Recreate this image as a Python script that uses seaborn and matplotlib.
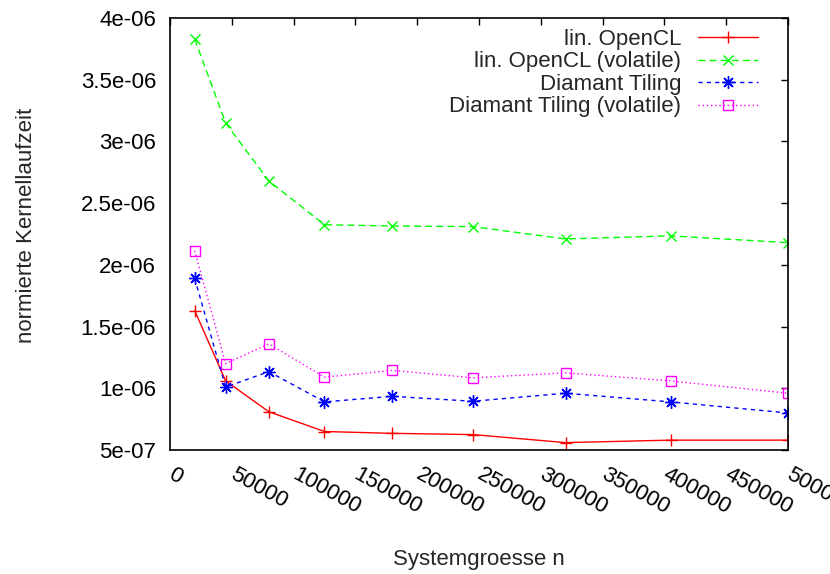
import matplotlib
matplotlib.use("Agg")
import matplotlib.pyplot as plt
import seaborn as sns
from matplotlib.ticker import FuncFormatter, MultipleLocator

sns.set_style("white")
plt.rcParams["font.family"] = ["Liberation Sans", "DejaVu Sans"]
plt.rcParams["font.size"] = 16

# problem sizes n
system_size = [20000, 45000, 80000, 125000, 180000, 245000, 320000, 405000, 500000]

# normalised kernel runtime per series
lin_opencl = [1.63e-6, 1.06e-6, 8.1e-7, 6.5e-7, 6.35e-7, 6.25e-7, 5.6e-7, 5.8e-7, 5.8e-7]
lin_opencl_volatile = [3.83e-6, 3.15e-6, 2.68e-6, 2.325e-6, 2.315e-6, 2.31e-6, 2.21e-6, 2.235e-6, 2.18e-6]
diamant = [1.89e-6, 1.01e-6, 1.135e-6, 8.9e-7, 9.35e-7, 8.95e-7, 9.6e-7, 8.9e-7, 8.0e-7]
diamant_volatile = [2.115e-6, 1.20e-6, 1.36e-6, 1.09e-6, 1.145e-6, 1.085e-6, 1.125e-6, 1.06e-6, 9.6e-7]

series_labels = ["lin. OpenCL", "lin. OpenCL (volatile)", "Diamant Tiling", "Diamant Tiling (volatile)"]

fig = plt.figure(figsize=(8.3, 5.74), dpi=100)
ax = fig.add_axes([0.2048, 0.216, 0.7446, 0.7526])

sns.lineplot(x=system_size, y=lin_opencl, ax=ax, color="#ff0000", marker="+",
             markersize=9, markeredgecolor="#ff0000", markeredgewidth=1.0,
             linewidth=1.0, linestyle="-", label=series_labels[0])
sns.lineplot(x=system_size, y=lin_opencl_volatile, ax=ax, color="#00ff00", marker="x",
             markersize=7, markeredgecolor="#00ff00", markeredgewidth=1.0,
             linewidth=1.0, linestyle=(0, (5, 3)), label=series_labels[1])
sns.lineplot(x=system_size, y=diamant, ax=ax, color="#0000ff", marker=(8, 2, 0),
             markersize=9, markeredgecolor="#0000ff", markeredgewidth=1.0,
             linewidth=1.0, linestyle=(0, (3, 3)), label=series_labels[2])
sns.lineplot(x=system_size, y=diamant_volatile, ax=ax, color="#ff00ff", marker="s",
             markersize=7, markerfacecolor="none", markeredgecolor="#ff00ff",
             markeredgewidth=1.0, linewidth=1.0, linestyle=(0, (1, 2)),
             label=series_labels[3])

ax.set_xlim(0, 500000)
ax.set_ylim(5e-7, 4e-6)
ax.xaxis.set_major_locator(MultipleLocator(50000))
ax.yaxis.set_major_locator(MultipleLocator(5e-7))
ax.xaxis.set_major_formatter(FuncFormatter(lambda v, p: "%g" % v))
ax.yaxis.set_major_formatter(FuncFormatter(lambda v, p: "%g" % v))

ax.tick_params(axis="both", direction="in", top=True, right=True, length=5,
               width=1, colors="black", labelsize=16)
ax.tick_params(axis="y", pad=10)
ax.tick_params(axis="x", pad=17)
for lbl in ax.get_xticklabels():
    lbl.set_rotation(-29)
    lbl.set_ha("left")
    lbl.set_va("center")
    lbl.set_rotation_mode("anchor")

for sp in ax.spines.values():
    sp.set_visible(True)
    sp.set_color("black")
    sp.set_linewidth(1.2)

ax.set_xlabel("Systemgroesse n", fontsize=16)
ax.set_ylabel("normierte Kernellaufzeit", fontsize=16)
ax.xaxis.set_label_coords(0.5, -0.228)
ax.yaxis.set_label_coords(-0.215, 0.521)

leg = ax.legend(loc="upper right", bbox_to_anchor=(0.9515, 0.975), frameon=False,
                markerfirst=False, handlelength=2.7, handletextpad=0.75,
                labelspacing=0.07, borderpad=0, borderaxespad=0, fontsize=16)

fig.savefig("out.png", dpi=100)
